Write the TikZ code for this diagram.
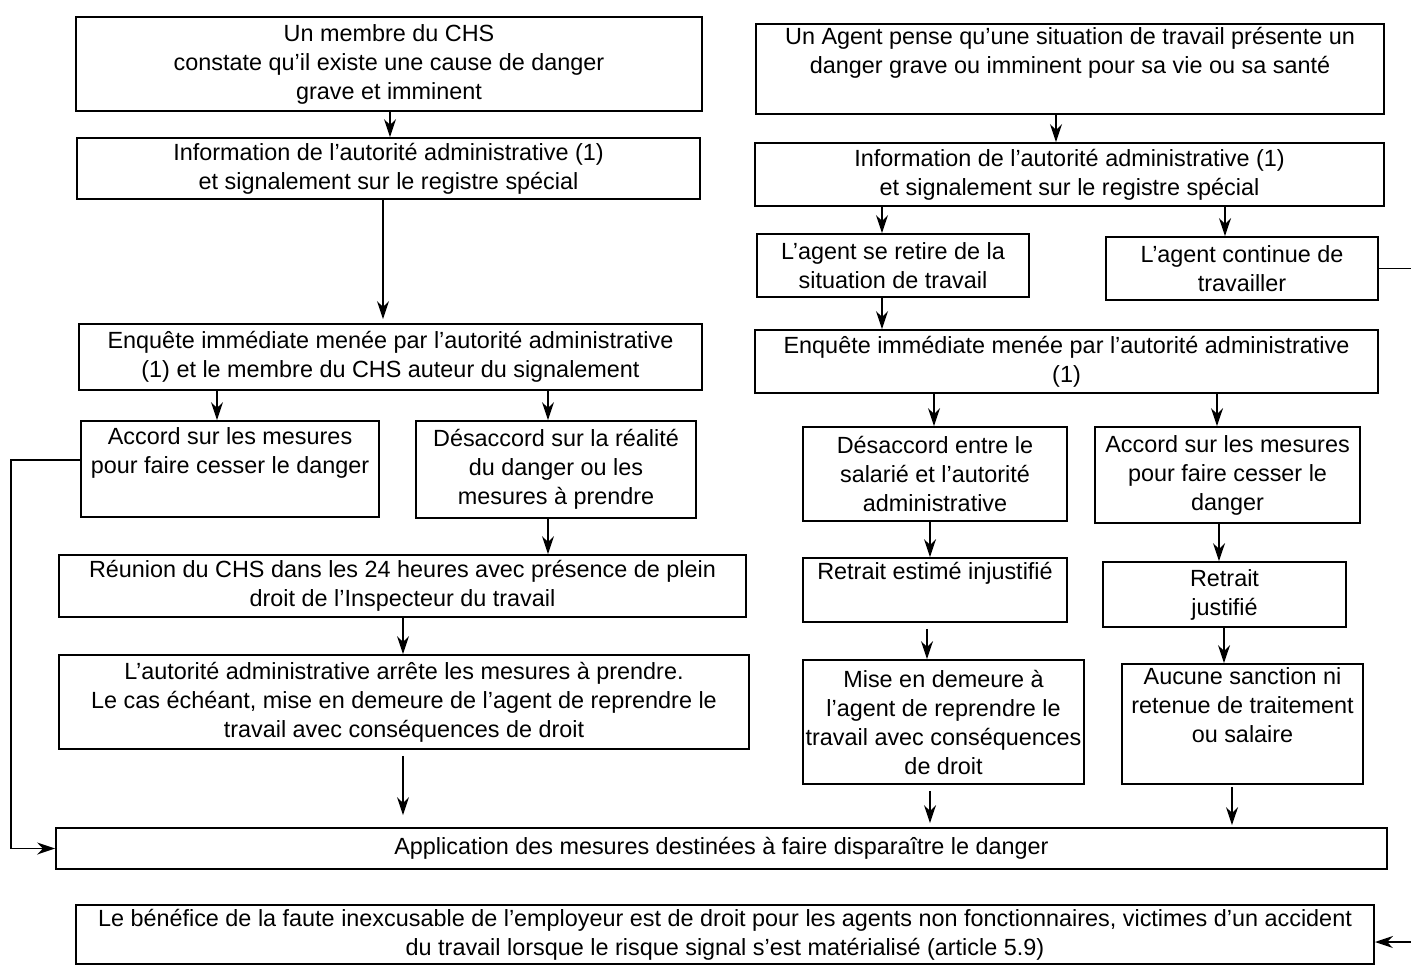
\documentclass[tikz,border=0pt]{standalone}
\usepackage{fontspec}
\setmainfont{Liberation Sans}
\usepackage{tikz}
\usetikzlibrary{arrows,arrows.meta,shapes}
\usetikzlibrary{positioning}
\tikzstyle{Bloc}=[draw,rectangle,inner sep=0,line width=0.9pt,align=center,
                font=\fontsize{11.7}{14.5}\selectfont]
\tikzstyle{fl}=[->,>={Stealth[length=9pt,width=6pt]},line width=0.8pt]
\tikzstyle{aF}=[every edge/.style={draw,fl}]

\begin{document}
\begin{tikzpicture}[aF,x=0.5pt,y=-0.5pt]
\path[use as bounding box] (0,0) rectangle (1411,966);

% colonne de gauche : signalement par un membre du CHS
\node[Bloc,minimum width=313pt,minimum height=47pt] (B1) at (389,64)
  {Un membre du CHS\\ constate qu'il existe une cause de danger\\ grave et imminent};
\node[Bloc,minimum width=311.5pt,minimum height=30.5pt] (B2) at (388.5,168.5)
  {Information de l'autorité administrative (1)\\ et signalement sur le registre spécial};
\node[Bloc,minimum width=311.5pt,minimum height=33pt] (B3) at (390.5,357)
  {Enquête immédiate menée par l'autorité administrative\\ (1) et le membre du CHS auteur du signalement};
\node[Bloc,minimum width=149pt,minimum height=48pt] (B4) at (230,469)
  {Accord sur les mesures\\ pour faire cesser le danger\\ \strut};
\node[Bloc,minimum width=140pt,minimum height=48.5pt] (B5) at (556,469.5)
  {Désaccord sur la réalité\\ du danger ou les\\ mesures à prendre};
\node[Bloc,minimum width=343.5pt,minimum height=31pt] (B6) at (402.5,586)
  {Réunion du CHS dans les 24 heures avec présence de plein\\ droit de l'Inspecteur du travail};
\node[Bloc,minimum width=345pt,minimum height=47pt] (B7) at (404,702)
  {L'autorité administrative arrête les mesures à prendre.\\ Le cas échéant, mise en demeure de l'agent de reprendre le\\ travail avec conséquences de droit};

% colonne de droite : droit de retrait de l'agent
\node[Bloc,minimum width=314pt,minimum height=45pt] (R1) at (1070,69)
  {Un Agent pense qu'une situation de travail présente un\\ danger grave ou imminent pour sa vie ou sa santé\\ \strut};
\node[Bloc,minimum width=314.5pt,minimum height=31.5pt] (R2) at (1069.5,174.5)
  {Information de l'autorité administrative (1)\\ et signalement sur le registre spécial};
\node[Bloc,minimum width=136pt,minimum height=31.5pt] (R3) at (893,265.5)
  {L'agent se retire de la\\ situation de travail};
\node[Bloc,minimum width=136pt,minimum height=31.5pt] (R4) at (1242,268.5)
  {L'agent continue de\\ travailler};
\node[Bloc,minimum width=311.5pt,minimum height=31.5pt] (R5) at (1066.5,361.5)
  {Enquête immédiate menée par l'autorité administrative\\ (1)};
\node[Bloc,minimum width=132pt,minimum height=47pt] (R6) at (935,474)
  {Désaccord entre le\\ salarié et l'autorité\\ administrative};
\node[Bloc,minimum width=132.5pt,minimum height=48pt] (R7) at (1227.5,475)
  {Accord sur les mesures\\ pour faire cesser le\\ danger};
\node[Bloc,minimum width=132pt,minimum height=32pt] (R8) at (935,590)
  {Retrait estimé injustifié\\ \strut};
\node[Bloc,minimum width=121.5pt,minimum height=32.5pt] (R9) at (1224.5,594.5)
  {Retrait\\ justifié};
\node[Bloc,minimum width=140.5pt,minimum height=62pt] (R10) at (943.5,722)
  {Mise en demeure à\\ l'agent de reprendre le\\ travail avec conséquences\\ de droit};
\node[Bloc,minimum width=120.5pt,minimum height=60pt] (R11) at (1242.5,724)
  {Aucune sanction ni\\ retenue de traitement\\ ou salaire\\ \strut};

% bas
\node[Bloc,minimum width=665.5pt,minimum height=20.5pt] (A) at (721.5,848.5)
  {Application des mesures destinées à faire disparaître le danger};
\node[Bloc,minimum width=649pt,minimum height=29.5pt] (F) at (725,934.5)
  {Le bénéfice de la faute inexcusable de l'employeur est de droit pour les agents non fonctionnaires, victimes d'un accident\\ du travail lorsque le risque signal s'est matérialisé (article 5.9)};

\path
(B1.south -| 390,0) edge (B2.north -| 390,0)
(B2.south -| 383,0) edge[shorten >=2pt] (B3.north -| 383,0)
(B3.south -| 217,0) edge (B4.north -| 217,0)
(B3.south -| 548,0) edge (B5.north -| 548,0)
(B5.south -| 548,0) edge (B6.north -| 548,0)
(B6.south -| 403,0) edge (B7.north -| 403,0)
(B7.south -| 403,0) edge[shorten <=3pt,shorten >=6pt] (A.north -| 403,0)
;
\path
(R1.south -| 1056,0) edge (R2.north -| 1056,0)
(R2.south -| 882,0) edge (R3.north -| 882,0)
(R2.south -| 1225,0) edge (R4.north -| 1225,0)
(R3.south -| 882,0) edge (R5.north -| 882,0)
(R5.south -| 934,0) edge (R6.north -| 934,0)
(R5.south -| 1217,0) edge (R7.north -| 1217,0)
(R6.south -| 930,0) edge (R8.north -| 930,0)
(R7.south -| 1219,0) edge (R9.north -| 1219,0)
(R8.south -| 927,0) edge[shorten <=3pt] (R10.north -| 927,0)
(R9.south -| 1224,0) edge (R11.north -| 1224,0)
(R10.south -| 930,0) edge[shorten <=3pt,shorten >=2pt] (A.north -| 930,0)
(R11.south -| 1232,0) edge[shorten <=1pt,shorten >=1pt] (A.north -| 1232,0)
;
\draw[fl] ([yshift=4.5pt]B4.west) -- ++(-69,0) |- (A.west);
\draw[fl] (R4.east) -- ++(50,0) |- ([yshift=-3.75pt]F.east);

\end{tikzpicture}
\end{document}
